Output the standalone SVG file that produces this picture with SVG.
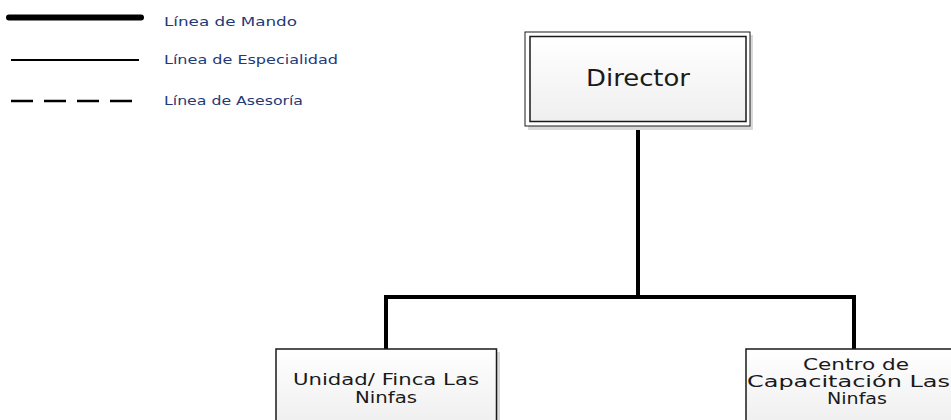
<svg xmlns="http://www.w3.org/2000/svg" width="951" height="420" viewBox="0 0 951 420">
<style>
.legend{font-family:"DejaVu Sans","Liberation Sans",sans-serif;font-size:13px;fill:#1f3a78}
.lbl{font-family:"DejaVu Sans","Liberation Sans",sans-serif;fill:#1a1a1a;text-anchor:middle}
.box{fill:url(#g);stroke:#1a1a1a;stroke-width:1.5}
.shadow{fill:#d9d9d9}
.conn{fill:none;stroke:#000;stroke-width:4}
</style>
<defs>
<linearGradient id="g" x1="0" y1="0" x2="0" y2="1">
<stop offset="0" stop-color="#ffffff"/>
<stop offset="1" stop-color="#efefef"/>
</linearGradient>
</defs>
<rect width="951" height="420" fill="#fff"/>
<g id="legend">
<line x1="9" y1="17.5" x2="141" y2="17.5" stroke="#000" stroke-width="6" stroke-linecap="round"/>
<line x1="11" y1="60" x2="139" y2="60" stroke="#000" stroke-width="2"/>
<line x1="11" y1="101" x2="133" y2="101" stroke="#000" stroke-width="2.5" stroke-dasharray="22 11"/>
<text class="legend" x="164" y="26" textLength="133" lengthAdjust="spacingAndGlyphs">Línea de Mando</text>
<text class="legend" x="164" y="64" textLength="174" lengthAdjust="spacingAndGlyphs">Línea de Especialidad</text>
<text class="legend" x="164" y="105" textLength="139" lengthAdjust="spacingAndGlyphs">Línea de Asesoría</text>
</g>
<g id="connectors">
<line class="conn" x1="638" y1="126" x2="638" y2="297"/>
<polyline class="conn" points="386,349 386,297 854,297 854,349"/>
</g>
<g id="director">
<rect class="shadow" x="528" y="35" width="225" height="95"/>
<rect x="525" y="32" width="225" height="94" fill="#fff" stroke="#1a1a1a" stroke-width="1"/>
<rect class="box" x="530" y="36.5" width="216" height="85"/>
<text class="lbl" x="638" y="85.5" font-size="23.5" textLength="104" lengthAdjust="spacingAndGlyphs">Director</text>
</g>
<g id="unidad">
<rect class="shadow" x="279" y="352" width="221" height="70"/>
<rect class="box" x="276" y="349" width="220.5" height="75"/>
<text class="lbl" x="386" y="385" font-size="16" textLength="186" lengthAdjust="spacingAndGlyphs">Unidad/ Finca Las</text>
<text class="lbl" x="386" y="403" font-size="16" textLength="62" lengthAdjust="spacingAndGlyphs">Ninfas</text>
</g>
<g id="centro">
<rect class="shadow" x="749" y="352" width="221" height="70"/>
<rect class="box" x="746" y="349" width="220.5" height="75"/>
<text class="lbl" x="856" y="370" font-size="15.5" textLength="106" lengthAdjust="spacingAndGlyphs">Centro de</text>
<text class="lbl" x="848.5" y="387" font-size="15.5" textLength="203" lengthAdjust="spacingAndGlyphs">Capacitación Las</text>
<text class="lbl" x="857" y="404" font-size="15.5" textLength="60" lengthAdjust="spacingAndGlyphs">Ninfas</text>
</g>
</svg>
